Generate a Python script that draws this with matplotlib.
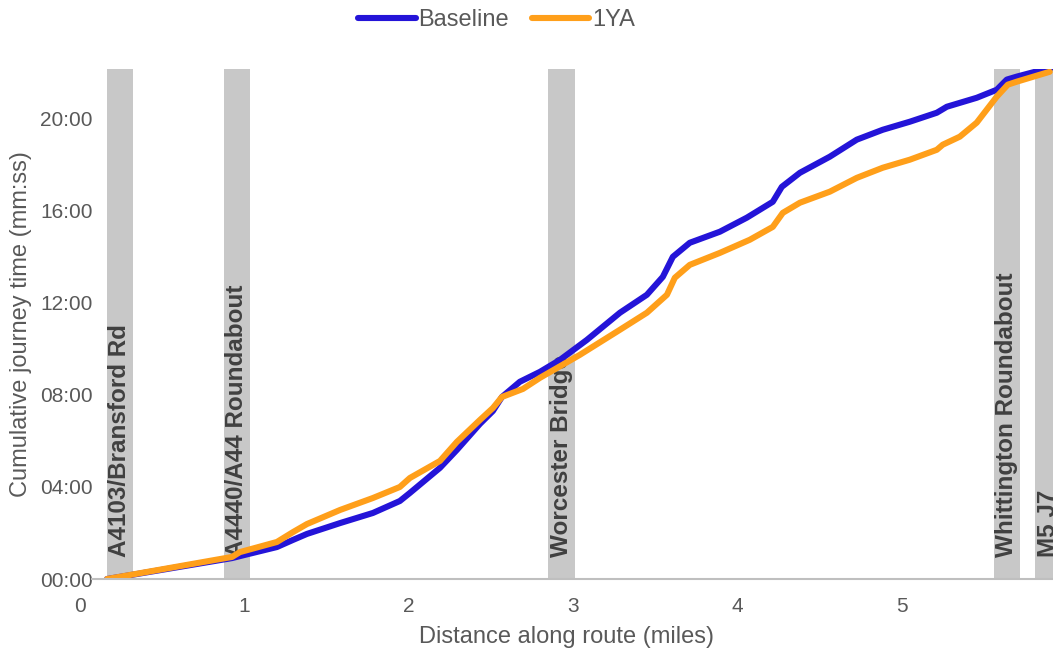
import matplotlib.pyplot as plt
from matplotlib.ticker import FuncFormatter

plt.rcParams['font.family'] = ['Liberation Sans', 'DejaVu Sans']

# distance (miles) and cumulative time (minutes)
base_x = [0.164, 0.925, 0.998, 1.198, 1.296, 1.381, 1.582, 1.782, 1.946, 2.007,
          2.190, 2.293, 2.433, 2.512, 2.567, 2.676, 2.798, 2.920, 3.084, 3.285,
          3.449, 3.546, 3.607, 3.710, 3.893, 4.057, 4.215, 4.270, 4.380, 4.562,
          4.726, 4.884, 5.049, 5.213, 5.274, 5.456, 5.578, 5.639, 5.700, 5.858, 5.912]
base_y = [0.00, 0.91, 1.04, 1.39, 1.70, 1.96, 2.43, 2.87, 3.39, 3.74,
          4.83, 5.61, 6.74, 7.30, 7.91, 8.57, 9.00, 9.52, 10.39, 11.57,
          12.35, 13.13, 14.00, 14.61, 15.09, 15.70, 16.39, 17.04, 17.65, 18.35,
          19.09, 19.52, 19.87, 20.26, 20.52, 20.91, 21.26, 21.70, 21.83, 22.13, 22.22]

ya_x = [0.164, 0.925, 0.973, 1.198, 1.296, 1.381, 1.582, 1.782, 1.946, 2.007,
        2.190, 2.293, 2.433, 2.512, 2.567, 2.695, 2.798, 3.041, 3.285, 3.449,
        3.571, 3.619, 3.710, 3.893, 4.075, 4.215, 4.276, 4.380, 4.562, 4.726,
        4.884, 5.049, 5.213, 5.249, 5.353, 5.456, 5.578, 5.645, 5.700, 5.900]
ya_y = [0.00, 0.96, 1.17, 1.61, 2.04, 2.39, 3.00, 3.52, 4.00, 4.39,
        5.13, 5.96, 6.91, 7.43, 7.91, 8.26, 8.74, 9.74, 10.83, 11.57,
        12.35, 13.09, 13.65, 14.17, 14.74, 15.30, 15.91, 16.35, 16.83, 17.43,
        17.87, 18.22, 18.65, 18.87, 19.22, 19.83, 20.96, 21.48, 21.61, 22.04]

# junction markers
junctions = ["A4103/Bransford Rd", "A4440/A44 Roundabout", "Worcester Bridge",
             "Whittington Roundabout", "M5 J7"]
junc_start = [0.164, 0.876, 2.847, 5.56, 5.81]
junc_end = [0.322, 1.034, 3.011, 5.72, 5.98]

fig = plt.figure(figsize=(10.53, 6.55), dpi=100)
ax = fig.add_axes([0.076, 0.116, 0.924, 0.779])

for s, e, name in zip(junc_start, junc_end, junctions):
    ax.axvspan(s, e, color='#c8c8c8', lw=0, zorder=1)
    ax.text((s + e) / 2, 0.96, name, rotation=90, ha='center', va='bottom',
            fontsize=17.5, fontweight='bold', color='#404040', zorder=2)

ax.plot(base_x, base_y, color='#2414d8', lw=4.4, label='Baseline',
        solid_capstyle='round', zorder=3)
ax.plot(ya_x, ya_y, color='#ff9f1a', lw=4.4, label='1YA',
        solid_capstyle='round', zorder=4)

ax.set_xlim(0, 5.92)
ax.set_ylim(0, 22.17)
ax.set_yticks([0, 4, 8, 12, 16, 20])
ax.set_xticks([0, 1, 2, 3, 4, 5])
ax.yaxis.set_major_formatter(FuncFormatter(lambda v, p: f"{int(v):02d}:00"))

for side in ['top', 'right', 'left']:
    ax.spines[side].set_visible(False)
ax.spines['bottom'].set_color('#bfbfbf')
ax.spines['bottom'].set_linewidth(1.5)
ax.spines['bottom'].set_bounds(0.07, 5.92)
ax.spines['bottom'].set_zorder(5)
ax.tick_params(length=0, labelsize=15, colors='#595959')
ax.tick_params(axis='x', pad=13)
ax.tick_params(axis='y', pad=-9)

ax.set_xlabel('Distance along route (miles)', fontsize=17, color='#595959')
ax.xaxis.set_label_coords(0.5, -0.092)
ax.set_ylabel('Cumulative journey time (mm:ss)', fontsize=17, color='#595959')
ax.yaxis.set_label_coords(-0.049, 0.5)

leg = fig.legend(loc='upper center', bbox_to_anchor=(0.4715, 1.0), ncol=2, frameon=False,
                 fontsize=17, handlelength=2.45, handletextpad=0.12, columnspacing=0.95,
                 borderaxespad=0.0)
for t in leg.get_texts():
    t.set_color('#595959')

fig.savefig('out.png', dpi=100)
